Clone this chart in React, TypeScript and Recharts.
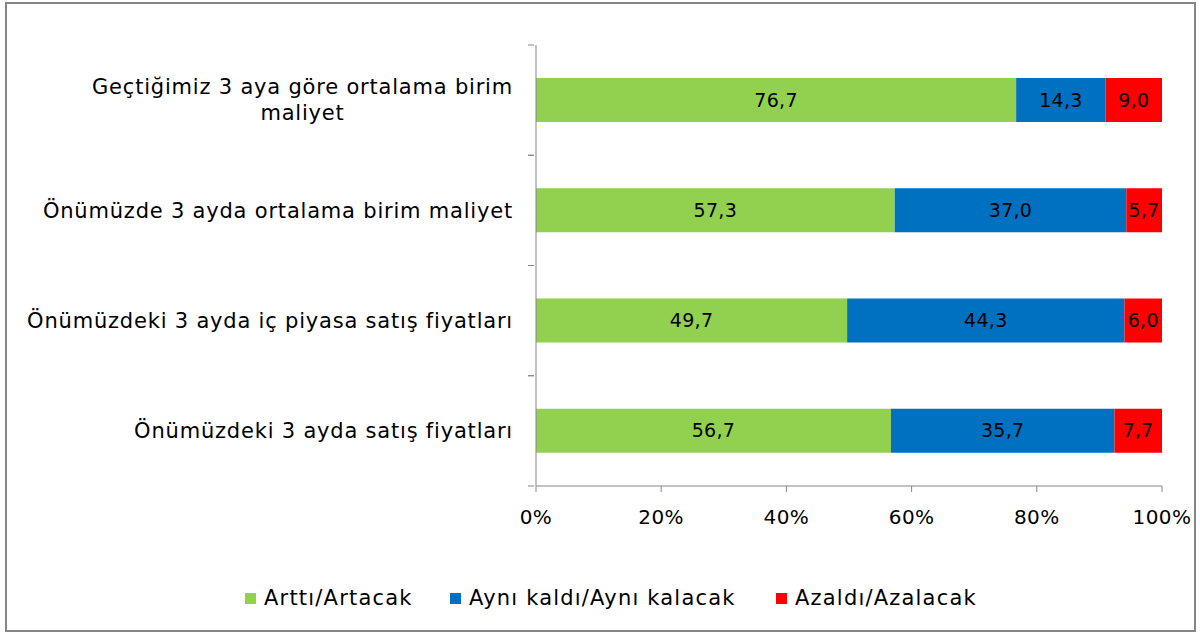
import { BarChart, Bar, XAxis, YAxis, LabelList } from 'recharts';

const categories = [
  'Geçtiğimiz 3 aya göre ortalama birim maliyet',
  'Önümüzde 3 ayda ortalama birim maliyet',
  'Önümüzdeki 3 ayda iç piyasa satış fiyatları',
  'Önümüzdeki 3 ayda satış fiyatları',
];
const arttiValues = [76.7, 57.3, 49.7, 56.7];
const ayniValues = [14.3, 37.0, 44.3, 35.7];
const azaldiValues = [9.0, 5.7, 6.0, 7.7];
const xTicks = [0, 20, 40, 60, 80, 100];

const series = [
  { key: 'artti', name: 'Arttı/Artacak', color: '#92D050', legendX: 245 },
  { key: 'ayni', name: 'Aynı kaldı/Aynı kalacak', color: '#0070C0', legendX: 450 },
  { key: 'azaldi', name: 'Azaldı/Azalacak', color: '#FF0000', legendX: 776 },
];

const data = categories.map((name, i) => ({
  name,
  artti: arttiValues[i],
  ayni: ayniValues[i],
  azaldi: azaldiValues[i],
}));

const FONT = '"DejaVu Sans", sans-serif';
const CAT_SIZE = 21;
const CAT_LS = 0.8;
const MAX_LABEL_W = 495;
const AXIS_COLOR = '#868686';

let ctx: CanvasRenderingContext2D | null = null;
function measure(text: string) {
  if (!ctx) ctx = document.createElement('canvas').getContext('2d');
  if (!ctx) return text.length * (CAT_SIZE * 0.58 + CAT_LS);
  ctx.font = `${CAT_SIZE}px ${FONT}`;
  return ctx.measureText(text).width + text.length * CAT_LS;
}

function wrap(text: string) {
  const words = text.split(' ');
  const lines: string[] = [];
  let cur = '';
  for (const w of words) {
    const next = cur ? cur + ' ' + w : w;
    if (cur && measure(next) > MAX_LABEL_W) {
      lines.push(cur);
      cur = w;
    } else cur = next;
  }
  if (cur) lines.push(cur);
  return lines;
}

const PLOT_TOP = 45;
const PLOT_BOTTOM = 486;
const BAND = (PLOT_BOTTOM - PLOT_TOP) / categories.length;

function CategoryTick(props: any) {
  const { x, y, payload } = props;
  const lines = wrap(String(payload.value));
  const widest = Math.max(...lines.map(measure));
  const right = x - 21;
  const cx = right - widest / 2;
  const lh = 26;
  const y0 = y - ((lines.length - 1) * lh) / 2;
  return (
    <g>
      <line x1={x - 6} x2={x} y1={y - BAND / 2} y2={y - BAND / 2} stroke={AXIS_COLOR} />
      <line x1={x - 6} x2={x} y1={y + BAND / 2} y2={y + BAND / 2} stroke={AXIS_COLOR} />
      <text fontFamily={FONT} fontSize={CAT_SIZE} letterSpacing={CAT_LS} fill="#000" textAnchor="middle">
        {lines.map((l, i) => (
          <tspan key={i} x={cx} y={y0 + i * lh} dy="0.35em">
            {l}
          </tspan>
        ))}
      </text>
    </g>
  );
}

const fmt = (v: any) => Number(v).toFixed(1).replace('.', ',');

export default function App() {
  return (
    <div style={{ position: 'absolute', left: 0, top: 0, width: 1200, height: 633, background: '#fff' }}>
      <div
        style={{
          position: 'absolute',
          left: 5,
          top: 2,
          width: 1191,
          height: 630,
          border: '2px solid #868686',
          boxSizing: 'border-box',
        }}
      />
      <div style={{ position: 'absolute', left: 0, top: 0 }}>
        <BarChart
          width={1200}
          height={633}
          data={data}
          layout="vertical"
          margin={{ top: PLOT_TOP, right: 38, bottom: 633 - PLOT_BOTTOM - 40, left: 0 }}
          barSize={44}
        >
          <XAxis
            type="number"
            domain={[0, 100]}
            allowDataOverflow
            ticks={xTicks}
            tickFormatter={(v) => `${v}%`}
            height={40}
            stroke={AXIS_COLOR}
            tickSize={6}
            tickMargin={18}
            tick={{ fill: '#000', fontSize: 20, fontFamily: FONT, letterSpacing: 0.4 }}
          />
          <YAxis
            type="category"
            dataKey="name"
            width={536}
            stroke={AXIS_COLOR}
            tickLine={false}
            tickSize={0}
            tick={<CategoryTick />}
          />
          {series.map((s) => (
            <Bar key={s.key} dataKey={s.key} name={s.name} stackId="a" fill={s.color} isAnimationActive={false}>
              <LabelList
                dataKey={s.key}
                position="center"
                formatter={fmt}
                fill="#000"
                fontSize={19}
                fontFamily={FONT}
                letterSpacing={0.3}
              />
            </Bar>
          ))}
        </BarChart>
      </div>
      {series.map((s) => (
        <div
          key={s.key}
          style={{
            position: 'absolute',
            top: 586,
            left: s.legendX,
            display: 'flex',
            alignItems: 'center',
            fontFamily: FONT,
            fontSize: 21,
            letterSpacing: 1.2,
            color: '#000',
            whiteSpace: 'nowrap',
          }}
        >
          <span style={{ width: 11, height: 11, background: s.color, marginRight: 8, display: 'inline-block' }} />
          <span>{s.name}</span>
        </div>
      ))}
    </div>
  );
}
